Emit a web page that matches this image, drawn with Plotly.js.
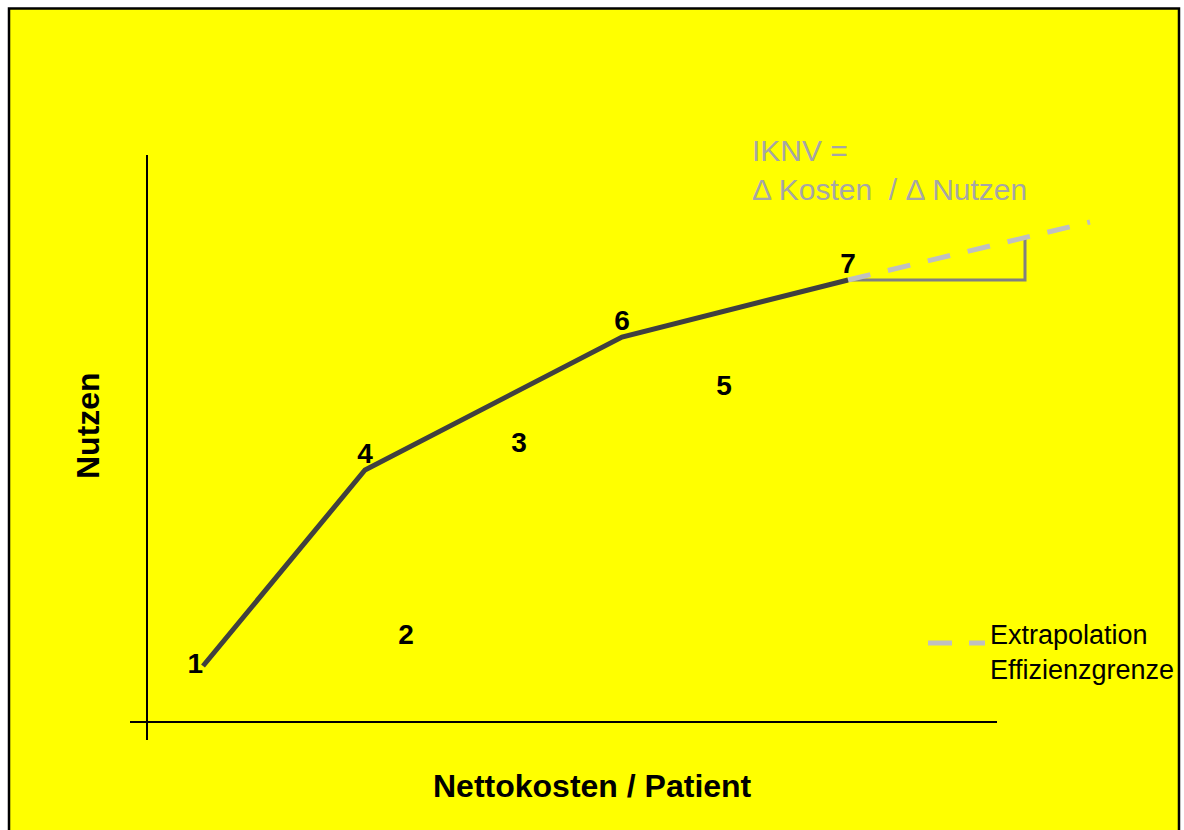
<!DOCTYPE html>
<html>
<head>
<meta charset="utf-8">
<script src="https://cdn.plot.ly/plotly-3.0.1.min.js"></script>
<style>html,body{margin:0;padding:0;background:#fff;}#chart{width:1184px;height:830px;}</style>
</head>
<body>
<div id="chart"></div>
<script>
// Strategies (label, net cost per patient, utility) – schematic units
const labels  = ['1', '2', '3', '4', '5', '6', '7'];
const cost    = [5.6, 25.9, 37.2, 21.8, 57.7, 47.5, 70.1];
const utility = [5.6, 8.5, 27.7, 25.2, 33.4, 38.5, 44.2];

// Efficiency frontier (strategies on the frontier, in order)
const frontier = ['1', '4', '6', '7'];

// Extrapolation of the efficiency frontier beyond strategy 7
const extrapCost    = [70.1, 94.3];
const extrapUtility = [44.2, 50.0];

// ICER triangle: Δ cost (horizontal) and Δ utility (vertical)
const triCost    = [70.1, 87.8, 87.8];
const triUtility = [44.2, 44.2, 48.4];

const titleX = 'Nettokosten / Patient';
const titleY = 'Nutzen';
const icerText = 'IKNV =<br>Δ Kosten \u00a0/ Δ Nutzen';
const legendText = 'Extrapolation<br>Effizienzgrenze';

const idx = l => labels.indexOf(l);
const fx = frontier.map(l => cost[idx(l)]);
const fy = frontier.map(l => utility[idx(l)]);
const fpos = frontier.map(l => l === '1' ? 'middle left' : 'top center');
const others = labels.filter(l => !frontier.includes(l));

const labelFont = {family: 'Liberation Sans, Arial, sans-serif', size: 28, color: '#000000'};

const traces = [
  {x: triCost, y: triUtility, mode: 'lines', line: {color: '#808080', width: 3}, hoverinfo: 'skip', showlegend: false},
  {x: extrapCost, y: extrapUtility, mode: 'lines', line: {color: '#c0c0c0', width: 5, dash: '23px,18px'}, hoverinfo: 'skip', showlegend: false},
  {x: fx, y: fy, mode: 'lines+text', text: frontier.map(l => '<b>' + l + '</b>'), textposition: fpos,
   textfont: labelFont, line: {color: '#404040', width: 5}, showlegend: false},
  {x: others.map(l => cost[idx(l)]), y: others.map(l => utility[idx(l)]), mode: 'text',
   text: others.map(l => '<b>' + l + '</b>'), textposition: 'middle center', textfont: labelFont, showlegend: false}
];

const W = 1184, H = 830;
const px = v => v / W, py = v => 1 - v / H;

const layout = {
  width: W, height: H,
  margin: {l: 0, r: 0, t: 0, b: 0},
  paper_bgcolor: '#ffffff',
  plot_bgcolor: 'rgba(0,0,0,0)',
  showlegend: false,
  xaxis: {range: [-14.7, 103.7], visible: false, fixedrange: true},
  yaxis: {range: [-10.8, 72.2], visible: false, fixedrange: true},
  shapes: [
    {type: 'rect', xref: 'paper', yref: 'paper', x0: px(9), x1: px(1179), y0: -0.02, y1: py(8.5),
     fillcolor: '#ffff00', line: {color: '#000000', width: 2.5}, layer: 'below'},
    // axes
    {type: 'line', xref: 'x', yref: 'y', x0: -1.7, x1: 85.0, y0: 0, y1: 0, line: {color: '#000000', width: 2}},
    {type: 'line', xref: 'x', yref: 'y', x0: 0, x1: 0, y0: -1.8, y1: 56.7, line: {color: '#000000', width: 2}},
    // legend sample
    {type: 'line', xref: 'paper', yref: 'paper', x0: px(928), x1: px(985), y0: py(643), y1: py(643),
     line: {color: '#c0c0c0', width: 5, dash: '24px,17px'}}
  ],
  annotations: [
    {text: '<b>' + titleX + '</b>', xref: 'paper', yref: 'paper', x: px(592), y: py(786),
     xanchor: 'center', yanchor: 'middle', showarrow: false,
     font: {family: 'Liberation Sans, Arial, sans-serif', size: 32, color: '#000000'}},
    {text: '<b>' + titleY + '</b>', xref: 'paper', yref: 'paper', x: px(88), y: py(426), textangle: -90,
     xanchor: 'center', yanchor: 'middle', showarrow: false,
     font: {family: 'Liberation Sans, Arial, sans-serif', size: 32, color: '#000000'}},
    {text: icerText, xref: 'paper', yref: 'paper', x: px(750), y: py(132), xanchor: 'left', yanchor: 'top',
     align: 'left', showarrow: false,
     font: {family: 'Liberation Sans, Arial, sans-serif', size: 30, color: '#a6a6a6'}},
    {text: legendText, xref: 'paper', yref: 'paper', x: px(988), y: py(618), xanchor: 'left', yanchor: 'top',
     align: 'left', showarrow: false,
     font: {family: 'Liberation Sans, Arial, sans-serif', size: 27, color: '#000000'}}
  ]
};

Plotly.newPlot('chart', traces, layout, {staticPlot: true, displayModeBar: false});
</script>
</body>
</html>
